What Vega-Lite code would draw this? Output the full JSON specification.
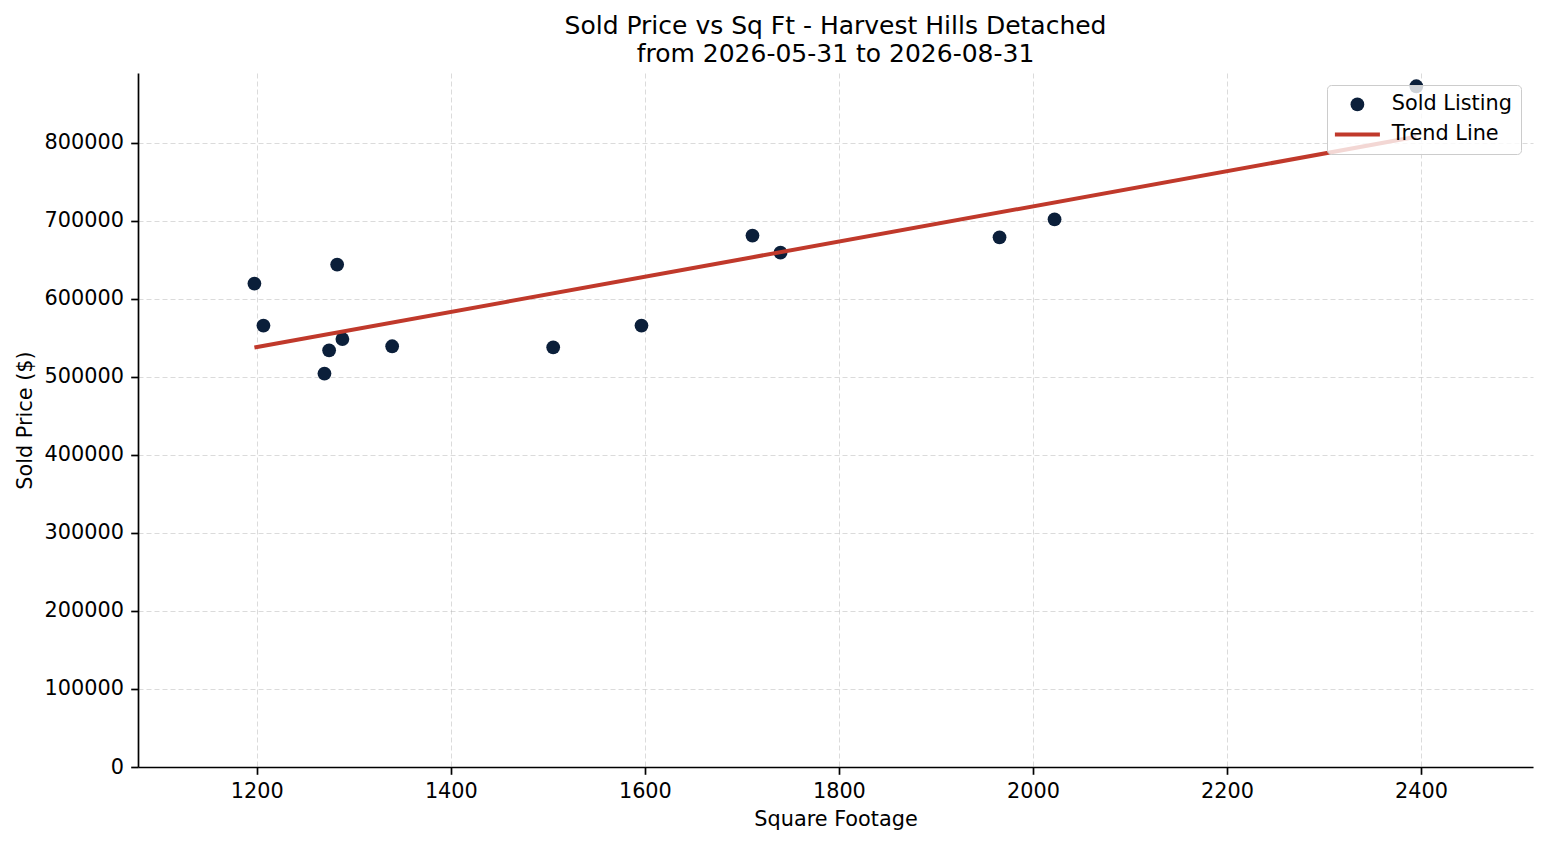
{
  "$schema": "https://vega.github.io/schema/vega-lite/v6.json",
  "autosize": "none",
  "width": 1395,
  "height": 694,
  "padding": {"left": 138, "top": 73, "right": 14, "bottom": 78},
  "background": "white",
  "title": {
    "text": ["Sold Price vs Sq Ft - Harvest Hills Detached", "from 2026-05-31 to 2026-08-31"],
    "font": "DejaVu Sans",
    "fontSize": 25,
    "fontWeight": "normal",
    "color": "#000000",
    "anchor": "middle",
    "lineHeight": 28,
    "offset": 6
  },
  "datasets": {
    "sold": [
      {"sqft": 1197.5, "price": 619500},
      {"sqft": 1206.8, "price": 565700},
      {"sqft": 1282.8, "price": 643900},
      {"sqft": 1269.7, "price": 504200},
      {"sqft": 1274.5, "price": 534000},
      {"sqft": 1288.2, "price": 548500},
      {"sqft": 1339.5, "price": 539200},
      {"sqft": 1505.5, "price": 537900},
      {"sqft": 1596.5, "price": 565700},
      {"sqft": 1710.9, "price": 681000},
      {"sqft": 1739.8, "price": 659200},
      {"sqft": 1965.6, "price": 678800},
      {"sqft": 2022.3, "price": 701900},
      {"sqft": 2395.2, "price": 872400}
    ],
    "trend": [
      {"sqft": 1197.5, "price": 537500},
      {"sqft": 2395.2, "price": 807600}
    ]
  },
  "config": {
    "view": {"stroke": null},
    "font": "DejaVu Sans",
    "axis": {
      "labelFont": "DejaVu Sans",
      "labelFontSize": 20.8,
      "labelColor": "#000000",
      "titleFont": "DejaVu Sans",
      "titleFontSize": 20.8,
      "titleFontWeight": "normal",
      "titleColor": "#000000",
      "domainColor": "#000000",
      "domainWidth": 1.7,
      "tickColor": "#000000",
      "tickWidth": 1.7,
      "tickSize": 7.3,
      "labelPadding": 7.3,
      "gridColor": "#b0b0b0",
      "gridOpacity": 0.5,
      "gridWidth": 0.9,
      "gridDash": [5, 3]
    }
  },
  "layer": [
    {
      "data": {"name": "sold"},
      "mark": {"type": "point", "filled": true, "opacity": 1, "size": 190, "shape": "circle"},
      "encoding": {
        "x": {
          "field": "sqft", "type": "quantitative",
          "scale": {"domain": [1077.5, 2515.5], "nice": false, "zero": false},
          "axis": {"title": "Square Footage", "values": [1200, 1400, 1600, 1800, 2000, 2200, 2400], "format": "d", "titlePadding": 8}
        },
        "y": {
          "field": "price", "type": "quantitative",
          "scale": {"domain": [0, 889400], "nice": false},
          "axis": {"title": "Sold Price ($)", "values": [0, 100000, 200000, 300000, 400000, 500000, 600000, 700000, 800000], "format": "d", "titlePadding": 9}
        },
        "color": {
          "datum": "Sold Listing",
          "type": "nominal",
          "scale": {"domain": ["Sold Listing", "Trend Line"], "range": ["#0b1f3a", "#c0392b"]},
          "legend": {
            "title": null,
            "orient": "top-right",
            "offset": 12,
            "padding": 9,
            "fillColor": "rgba(255,255,255,0.8)",
            "strokeColor": "#cccccc",
            "cornerRadius": 4,
            "labelFont": "DejaVu Sans",
            "labelFontSize": 20.8,
            "labelColor": "#000000",
            "rowPadding": 8,
            "symbolOffset": 11,
            "labelOffset": 24,
            "encoding": {
              "symbols": {
                "shape": {"value": {"expr": "datum.value === 'Trend Line' ? 'stroke' : 'circle'"}},
                "size": {"value": {"expr": "datum.value === 'Trend Line' ? 2025 : 190"}},
                "strokeWidth": {"value": {"expr": "datum.value === 'Trend Line' ? 4 : 0"}},
                "fill": {"value": {"expr": "datum.value === 'Trend Line' ? '#c0392b' : '#0b1f3a'"}},
                "stroke": {"value": {"expr": "datum.value === 'Trend Line' ? '#c0392b' : '#0b1f3a'"}},
                "opacity": {"value": 1}
              }
            }
          }
        }
      }
    },
    {
      "data": {"name": "trend"},
      "mark": {"type": "line", "strokeWidth": 4},
      "encoding": {
        "x": {"field": "sqft", "type": "quantitative"},
        "y": {"field": "price", "type": "quantitative"},
        "color": {"datum": "Trend Line", "type": "nominal"}
      }
    }
  ]
}
